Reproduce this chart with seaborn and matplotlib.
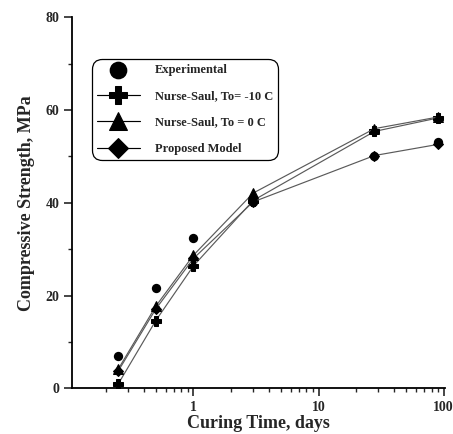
import matplotlib
matplotlib.use("Agg")
import matplotlib.pyplot as plt
import seaborn as sns

# Curing ages (days) and compressive strengths (MPa)
days = [0.25, 0.5, 1, 3, 28, 90]
experimental = [7.0, 21.7, 32.5, 40.2, 50.2, 53.1]
nurse_saul_m10 = [0.9, 14.6, 26.4, 40.5, 55.4, 58.3]
nurse_saul_0 = [4.1, 17.7, 28.7, 42.1, 56.0, 58.5]
proposed = [3.7, 17.1, 28.0, 40.2, 50.2, 52.6]

labels = ["Experimental", "Nurse-Saul, To= -10 C", "Nurse-Saul, To = 0 C", "Proposed Model"]
y_ticks = [0, 20, 40, 60, 80]

sns.set_style("ticks")
plt.rcParams["font.family"] = ["Liberation Serif", "DejaVu Serif"]
plt.rcParams["font.weight"] = "bold"

fig = plt.figure(figsize=(4.53, 4.34), dpi=100)
ax = fig.add_axes([0.159, 0.1053, 0.8227, 0.8547])

line_kw = dict(color="#5a5a5a", linewidth=0.85, markersize=6.5,
               markerfacecolor="black", markeredgecolor="black", ax=ax)

sns.scatterplot(x=days, y=experimental, marker="o", s=45, color="black",
                edgecolor="black", linewidth=0, ax=ax, label=labels[0], zorder=4)
sns.lineplot(x=days, y=nurse_saul_m10, marker="P", label=labels[1], zorder=3, **line_kw)
sns.lineplot(x=days, y=nurse_saul_0, marker="^", label=labels[2], zorder=3, **line_kw)
sns.lineplot(x=days, y=proposed, marker="D", label=labels[3], zorder=3,
             **{**line_kw, "markersize": 5.5})

ax.set_xscale("log")
ax.set_xlim(0.107, 102)
ax.set_ylim(0, 80)
ax.set_yticks(y_ticks)
ax.set_yticks([10, 30, 50, 70], minor=True)
ax.set_xticks([1, 10, 100])
ax.set_xticklabels(["1", "10", "100"])
ax.tick_params(axis="both", which="major", length=6, width=1.2, labelsize=10, pad=3)
ax.tick_params(axis="both", which="minor", length=3, width=1.0)
for lab in ax.get_xticklabels() + ax.get_yticklabels():
    lab.set_fontweight("bold")

sns.despine(ax=ax)
for s in ["left", "bottom"]:
    ax.spines[s].set_linewidth(1.3)
    ax.spines[s].set_color("black")

ax.set_xlabel("Curing Time, days", fontsize=13, fontweight="bold", labelpad=1)
ax.set_ylabel("Compressive Strength, MPa", fontsize=13, fontweight="bold", labelpad=8)

handles, lbls = ax.get_legend_handles_labels()
leg = ax.legend(handles, lbls, loc="upper left", bbox_to_anchor=(0.054, 0.888),
                borderaxespad=0, frameon=True, fancybox=True, edgecolor="black",
                framealpha=1,
                prop={"family": "Liberation Serif", "weight": "bold", "size": 9},
                markerscale=1.9, handlelength=3.4, handletextpad=1.2,
                labelspacing=1.15, borderpad=0.4)
frame = leg.get_frame()
frame.set_linewidth(0.9)
frame.set_boxstyle("round", pad=0, rounding_size=0.8)
for h in leg.legend_handles:
    try:
        h.set_color("black")
    except Exception:
        pass

fig.savefig("out.png", dpi=100, facecolor="white")
